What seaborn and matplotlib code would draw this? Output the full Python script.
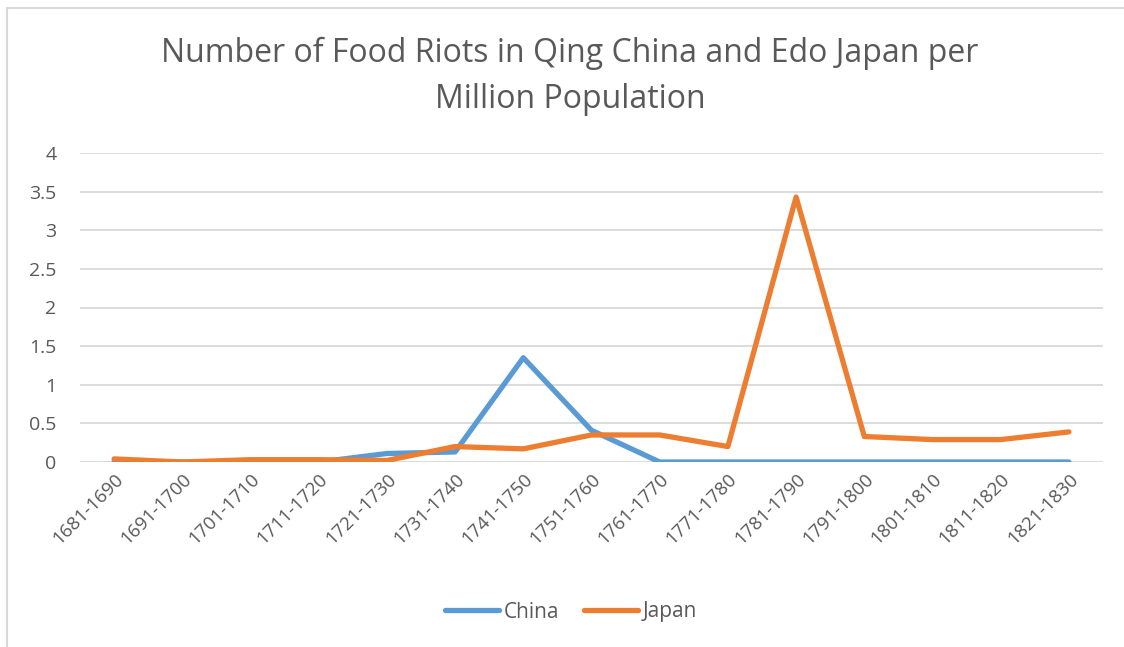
import matplotlib
matplotlib.use("Agg")
import matplotlib.pyplot as plt
from matplotlib.lines import Line2D
from matplotlib.patches import Rectangle
import seaborn as sns
import pandas as pd

periods = ["1681-1690", "1691-1700", "1701-1710", "1711-1720", "1721-1730",
           "1731-1740", "1741-1750", "1751-1760", "1761-1770", "1771-1780",
           "1781-1790", "1791-1800", "1801-1810", "1811-1820", "1821-1830"]
china = [0.0, 0.0, 0.0, 0.0, 0.11, 0.13, 1.35, 0.41, 0.0, 0.0, 0.0, 0.0, 0.0, 0.0, 0.0]
japan = [0.04, 0.0, 0.03, 0.03, 0.02, 0.2, 0.17, 0.35, 0.35, 0.2, 3.43, 0.33, 0.29, 0.29, 0.39]
y_ticks = [0, 0.5, 1, 1.5, 2, 2.5, 3, 3.5, 4]
y_tick_labels = ["0", "0.5", "1", "1.5", "2", "2.5", "3", "3.5", "4"]

df = pd.DataFrame({
    "period": periods * 2,
    "pos": list(range(len(periods))) * 2,
    "value": china + japan,
    "country": ["China"] * len(periods) + ["Japan"] * len(periods),
})

sns.set_theme(style="white")
plt.rcParams["font.family"] = ["Open Sans", "DejaVu Sans"]
text_color = "#595959"
grid_color = "#D9D9D9"

fig = plt.figure(figsize=(11.24, 6.47), dpi=100)
W, H = 1124, 647
ax = fig.add_axes([80 / W, (H - 462) / H, (1103 - 80) / W, 309 / H])

sns.lineplot(data=df, x="pos", y="value", hue="country",
             palette={"China": "#5B9BD5", "Japan": "#ED7D31"},
             linewidth=3.8, ax=ax, legend=False,
             solid_capstyle="round", solid_joinstyle="round")

ax.set_xlim(-0.5, len(periods) - 0.5)
ax.set_ylim(0, 4)
ax.set_yticks(y_ticks)
ax.set_yticklabels(y_tick_labels)
ax.set_xticks(range(len(periods)))
ax.set_xticklabels(periods, rotation=45, ha="right", rotation_mode="anchor")
ax.tick_params(axis="x", labelsize=13.5, colors=text_color, length=0, pad=6)
ax.tick_params(axis="y", labelsize=14, colors=text_color, length=0, pad=17)
ax.yaxis.grid(True, color=grid_color, linewidth=1.3)
ax.set_axisbelow(True)
for s in ax.spines.values():
    s.set_visible(False)
ax.set_xlabel("")
ax.set_ylabel("")

title_size = 23
fig.text(0.507, 1 - 53 / H, "Number of Food Riots in Qing China and Edo Japan per",
         ha="center", va="center", fontsize=title_size, color=text_color)
fig.text(0.507, 1 - 99 / H, "Million Population",
         ha="center", va="center", fontsize=title_size, color=text_color)

handles = [Line2D([0], [0], color="#5B9BD5", lw=3.8, solid_capstyle="round"),
           Line2D([0], [0], color="#ED7D31", lw=3.8, solid_capstyle="round")]
fig.legend(handles, ["China", "Japan"], loc="center", bbox_to_anchor=(0.508, 1 - 612 / H),
           ncol=2, frameon=False, fontsize=15, labelcolor=text_color,
           handlelength=2.6, handletextpad=0.2, columnspacing=1.2)

fig.add_artist(Rectangle((7 / W, -0.1), 1.2, 1 - 8 / H + 0.1, transform=fig.transFigure,
                         fill=False, edgecolor=grid_color, linewidth=1.5))

fig.savefig("out.png", dpi=100, facecolor="white")
